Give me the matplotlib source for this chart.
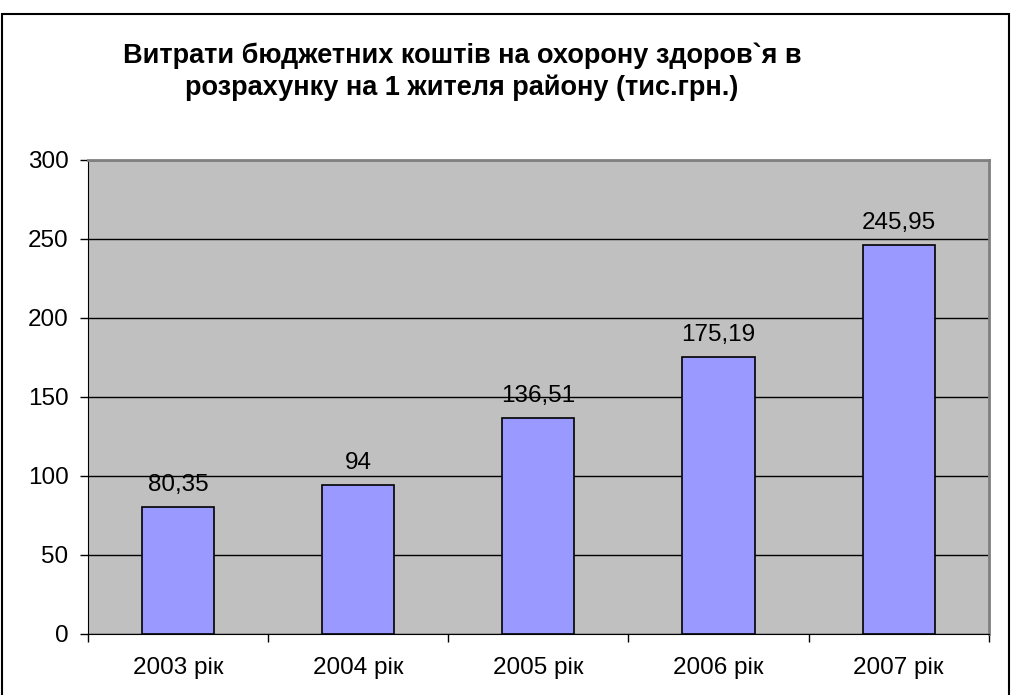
import matplotlib.pyplot as plt
from matplotlib.patches import Rectangle

years = ['2003 рік', '2004 рік', '2005 рік', '2006 рік', '2007 рік']
values = [80.35, 94, 136.51, 175.19, 245.95]
labels = ['80,35', '94', '136,51', '175,19', '245,95']

plt.rcParams['font.family'] = ['Liberation Sans', 'DejaVu Sans']

fig = plt.figure(figsize=(10.11, 6.95), dpi=100)
ax = fig.add_axes([0.087, 0.088, 0.891, 0.682])

# outer frame of the chart
fig.patches.append(Rectangle((2 / 1011, -0.1), 1007 / 1011, 1.1 - 14 / 695,
                             transform=fig.transFigure, fill=False,
                             edgecolor='black', linewidth=1.5))

ax.set_facecolor('#C0C0C0')
x = range(len(years))
bars = ax.bar(x, values, width=0.4, color='#9999FF', edgecolor='black', linewidth=1.2, zorder=3)
for xi, v, t in zip(x, values, labels):
    ax.text(xi, v + 7, t, ha='center', va='bottom', fontsize=17.5)

ax.set_xlim(-0.5, len(years) - 0.5)
ax.set_ylim(0, 300)
ax.set_yticks(range(0, 301, 50))
ax.yaxis.grid(True, color='black', linewidth=1)
ax.set_axisbelow(True)

ax.set_xticks(x)
ax.set_xticklabels(years, fontsize=17.5)
ax.tick_params(axis='x', length=0, pad=17)
ax.set_xticks([i - 0.5 for i in range(len(years) + 1)], minor=True)
ax.tick_params(axis='x', which='minor', length=6, direction='out', width=1)
ax.tick_params(axis='y', labelsize=17.5, length=6, width=1, pad=8)

ax.spines['top'].set_color('#808080')
ax.spines['right'].set_color('#808080')
ax.spines['top'].set_linewidth(2)
ax.spines['right'].set_linewidth(2)

fig.text(0.457, 0.897, 'Витрати бюджетних коштів на охорону здоров`я в\nрозрахунку на 1 жителя району (тис.грн.)',
         ha='center', va='center', fontsize=19.5, fontweight='bold', linespacing=1.25)

fig.savefig('out.png', dpi=100)
